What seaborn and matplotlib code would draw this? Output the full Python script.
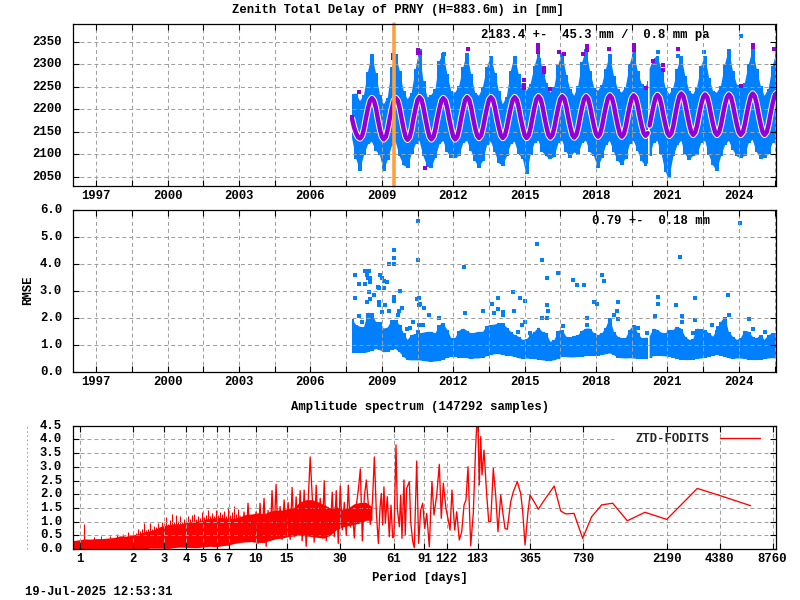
import numpy as np
import pandas as pd
import matplotlib
matplotlib.use('Agg')
import matplotlib.pyplot as plt
from matplotlib.ticker import NullLocator
from matplotlib.transforms import ScaledTranslation
import seaborn as sns

BLUE = '#0080ff'
PURPLE = '#9400d3'
ORANGE = '#ffa040'
RED = '#ff0000'
GRID = '#a0a0a0'

# sample dates of the two time series panels (nan rows mark the data gap in 2020)
years = [2007.75, 2007.92,
         2008.08, 2008.25, 2008.42, 2008.58, 2008.75, 2008.92,
         2009.08, 2009.25, 2009.42, 2009.58, 2009.75, 2009.92,
         2010.08, 2010.25, 2010.42, 2010.58, 2010.75, 2010.92,
         2011.08, 2011.25, 2011.42, 2011.58, 2011.75, 2011.92,
         2012.08, 2012.25, 2012.42, 2012.58, 2012.75, 2012.92,
         2013.08, 2013.25, 2013.42, 2013.58, 2013.75, 2013.92,
         2014.08, 2014.25, 2014.42, 2014.58, 2014.75, 2014.92,
         2015.08, 2015.25, 2015.42, 2015.58, 2015.75, 2015.92,
         2016.08, 2016.25, 2016.42, 2016.58, 2016.75, 2016.92,
         2017.08, 2017.25, 2017.42, 2017.58, 2017.75, 2017.92,
         2018.08, 2018.25, 2018.42, 2018.58, 2018.75, 2018.92,
         2019.08, 2019.25, 2019.42, 2019.58, 2019.75, 2019.92,
         2020.08, 2020.18, 2020.21, 2020.25, 2020.42, 2020.58, 2020.75, 2020.92,
         2021.08, 2021.25, 2021.42, 2021.58, 2021.75, 2021.92,
         2022.08, 2022.25, 2022.42, 2022.58, 2022.75, 2022.92,
         2023.08, 2023.25, 2023.42, 2023.58, 2023.75, 2023.92,
         2024.08, 2024.25, 2024.42, 2024.58, 2024.75, 2024.92,
         2025.08, 2025.25, 2025.42, 2025.58]

ztd_hi = [2233, 2235,
          2218, 2232, 2284, 2322, 2281, 2232,
          2211, 2226, 2293, 2322, 2285, 2240,
          2222, 2236, 2289, 2333, 2262, 2226,
          2232, 2244, 2307, 2326, 2278, 2240,
          2237, 2252, 2293, 2326, 2278, 2237,
          2230, 2250, 2293, 2319, 2281, 2240,
          2211, 2228, 2285, 2319, 2278, 2246,
          2241, 2256, 2296, 2326, 2290, 2258,
          2237, 2250, 2300, 2326, 2277, 2244,
          2230, 2252, 2305, 2333, 2285, 2248,
          2241, 2254, 2290, 2322, 2274, 2244,
          2237, 2250, 2300, 2330, 2285, 2256,
          2248, 2262, np.nan, 2290, 2312, 2319, 2288, 2248,
          2233, 2248, 2290, 2319, 2274, 2240,
          2233, 2250, 2296, 2319, 2270, 2240,
          2237, 2252, 2300, 2333, 2285, 2255,
          2248, 2258, 2300, 2333, 2290, 2252,
          2230, 2245, 2296, 2326]

ztd_lo = [2135, 2090,
          2063, 2098, 2122, 2128, 2108, 2098,
          2063, 2088, 2118, 2128, 2095, 2075,
          2070, 2100, 2122, 2130, 2095, 2072,
          2070, 2092, 2122, 2130, 2105, 2092,
          2092, 2096, 2125, 2130, 2108, 2085,
          2070, 2085, 2120, 2128, 2105, 2080,
          2074, 2095, 2122, 2128, 2100, 2090,
          2055, 2098, 2125, 2130, 2105, 2095,
          2089, 2094, 2125, 2130, 2105, 2092,
          2104, 2100, 2125, 2130, 2105, 2095,
          2070, 2092, 2120, 2130, 2105, 2085,
          2077, 2090, 2122, 2130, 2108, 2085,
          2074, 2080, np.nan, 2095, 2125, 2130, 2100, 2060,
          2048, 2095, 2120, 2130, 2100, 2088,
          2096, 2098, 2125, 2130, 2098, 2075,
          2063, 2095, 2120, 2130, 2110, 2095,
          2092, 2096, 2125, 2132, 2105, 2090,
          2092, 2100, 2125, 2135]

rmse_hi = [1.95, 1.73,
           1.67, 1.65, 2.19, 2.16, 1.85, 1.83,
           1.60, 1.64, 1.92, 1.90, 1.73, 1.42,
           1.18, 1.36, 1.40, 1.42, 1.45, 1.48,
           1.48, 1.42, 1.73, 1.79, 1.55, 1.24,
           1.24, 1.52, 1.60, 1.52, 1.42, 1.45,
           1.48, 1.48, 1.70, 1.73, 1.75, 1.79,
           1.79, 1.64, 1.48, 1.36, 1.30, 1.18,
           1.20, 1.36, 1.48, 1.64, 1.48, 1.42,
           1.11, 1.17, 1.52, 1.55, 1.30, 1.27,
           1.32, 1.36, 1.52, 1.60, 1.60, 1.42,
           1.36, 1.42, 1.64, 2.00, 1.48, 1.30,
           1.24, 1.24, 1.55, 1.73, 1.45, 1.24,
           1.26, 1.26, np.nan, 1.30, 1.60, 1.55, 1.45, 1.42,
           1.55, 1.55, 1.67, 1.60, 1.30, 1.18,
           1.20, 1.60, 1.57, 1.55, 1.42, 1.30,
           1.55, 1.85, 2.04, 1.48, 1.30, 1.18,
           1.24, 1.52, 1.48, 1.30, 1.24, 1.36,
           1.18, 1.36, 1.42, 1.42]

rmse_lo = [0.70, 0.70,
           0.70, 0.70, 0.72, 0.78, 0.84, 0.80,
           0.72, 0.74, 0.82, 0.84, 0.72, 0.55,
           0.43, 0.42, 0.42, 0.42, 0.40, 0.38,
           0.37, 0.38, 0.40, 0.45, 0.52, 0.55,
           0.56, 0.52, 0.52, 0.50, 0.48, 0.49,
           0.49, 0.52, 0.58, 0.62, 0.65, 0.65,
           0.62, 0.60, 0.58, 0.55, 0.50, 0.48,
           0.49, 0.48, 0.47, 0.45, 0.42, 0.41,
           0.41, 0.42, 0.48, 0.55, 0.54, 0.53,
           0.53, 0.55, 0.56, 0.58, 0.58, 0.60,
           0.60, 0.62, 0.65, 0.68, 0.62, 0.52,
           0.50, 0.49, 0.50, 0.49, 0.48, 0.47,
           0.47, 0.47, np.nan, 0.50, 0.58, 0.59, 0.58, 0.57,
           0.56, 0.52, 0.48, 0.45, 0.43, 0.43,
           0.45, 0.48, 0.49, 0.52, 0.55, 0.60,
           0.62, 0.60, 0.55, 0.50, 0.48, 0.49,
           0.49, 0.47, 0.45, 0.43, 0.43, 0.45,
           0.47, 0.49, 0.50, 0.50]

# seasonal curve, read month by month
seasonal_years = [2007.75, 2007.83, 2007.92, 2008.00,
    2008.08, 2008.17, 2008.25, 2008.33, 2008.42, 2008.50, 2008.58, 2008.67, 2008.75, 2008.83, 2008.92, 2009.00,
    2009.08, 2009.17, 2009.25, 2009.33, 2009.42, 2009.50, 2009.58, 2009.67, 2009.75, 2009.83, 2009.92, 2010.00,
    2010.08, 2010.17, 2010.25, 2010.33, 2010.42, 2010.50, 2010.58, 2010.67, 2010.75, 2010.83, 2010.92, 2011.00,
    2011.08, 2011.17, 2011.25, 2011.33, 2011.42, 2011.50, 2011.58, 2011.67, 2011.75, 2011.83, 2011.92, 2012.00,
    2012.08, 2012.17, 2012.25, 2012.33, 2012.42, 2012.50, 2012.58, 2012.67, 2012.75, 2012.83, 2012.92, 2013.00,
    2013.08, 2013.17, 2013.25, 2013.33, 2013.42, 2013.50, 2013.58, 2013.67, 2013.75, 2013.83, 2013.92, 2014.00,
    2014.08, 2014.17, 2014.25, 2014.33, 2014.42, 2014.50, 2014.58, 2014.67, 2014.75, 2014.83, 2014.92, 2015.00,
    2015.08, 2015.17, 2015.25, 2015.33, 2015.42, 2015.50, 2015.58, 2015.67, 2015.75, 2015.83, 2015.92, 2016.00,
    2016.08, 2016.17, 2016.25, 2016.33, 2016.42, 2016.50, 2016.58, 2016.67, 2016.75, 2016.83, 2016.92, 2017.00,
    2017.08, 2017.17, 2017.25, 2017.33, 2017.42, 2017.50, 2017.58, 2017.67, 2017.75, 2017.83, 2017.92, 2018.00,
    2018.08, 2018.17, 2018.25, 2018.33, 2018.42, 2018.50, 2018.58, 2018.67, 2018.75, 2018.83, 2018.92, 2019.00,
    2019.08, 2019.17, 2019.25, 2019.33, 2019.42, 2019.50, 2019.58, 2019.67, 2019.75, 2019.83, 2019.92, 2020.00,
    2020.08, 2020.17, 2020.25, 2020.33, 2020.42, 2020.50, 2020.58, 2020.67, 2020.75, 2020.83, 2020.92, 2021.00,
    2021.08, 2021.17, 2021.25, 2021.33, 2021.42, 2021.50, 2021.58, 2021.67, 2021.75, 2021.83, 2021.92, 2022.00,
    2022.08, 2022.17, 2022.25, 2022.33, 2022.42, 2022.50, 2022.58, 2022.67, 2022.75, 2022.83, 2022.92, 2023.00,
    2023.08, 2023.17, 2023.25, 2023.33, 2023.42, 2023.50, 2023.58, 2023.67, 2023.75, 2023.83, 2023.92, 2024.00,
    2024.08, 2024.17, 2024.25, 2024.33, 2024.42, 2024.50, 2024.58, 2024.67, 2024.75, 2024.83, 2024.92, 2025.00,
    2025.08, 2025.17, 2025.25, 2025.33, 2025.42, 2025.50, 2025.58]
seasonal_ztd = [2178, 2160, 2146, 2138,
    2135, 2141, 2157, 2180, 2203, 2219, 2225, 2219, 2203, 2179, 2155, 2139,
    2133, 2139, 2156, 2179, 2202, 2219, 2225, 2219, 2202, 2179, 2155, 2138,
    2132, 2138, 2156, 2180, 2203, 2221, 2227, 2221, 2203, 2180, 2156, 2139,
    2133, 2139, 2156, 2179, 2202, 2219, 2225, 2219, 2202, 2179, 2156, 2139,
    2133, 2139, 2157, 2180, 2203, 2221, 2227, 2221, 2204, 2181, 2158, 2142,
    2136, 2142, 2159, 2181, 2204, 2221, 2227, 2221, 2204, 2181, 2159, 2142,
    2136, 2142, 2159, 2181, 2204, 2221, 2227, 2221, 2204, 2181, 2159, 2142,
    2136, 2142, 2159, 2182, 2206, 2223, 2229, 2223, 2206, 2183, 2160, 2143,
    2137, 2143, 2160, 2183, 2206, 2223, 2229, 2223, 2206, 2183, 2160, 2143,
    2137, 2143, 2160, 2183, 2206, 2223, 2229, 2223, 2206, 2184, 2161, 2145,
    2139, 2145, 2162, 2185, 2208, 2225, 2231, 2225, 2208, 2185, 2162, 2145,
    2139, 2145, 2162, 2185, 2208, 2225, 2231, 2225, 2208, 2185, 2163, 2147,
    2141, 2147, 2164, 2186, 2209, 2226, 2232, 2226, 2209, 2186, 2164, 2147,
    2141, 2147, 2164, 2188, 2212, 2229, 2235, 2229, 2212, 2189, 2166, 2149,
    2143, 2149, 2165, 2188, 2211, 2227, 2233, 2227, 2210, 2188, 2165, 2149,
    2143, 2149, 2165, 2188, 2211, 2227, 2233, 2227, 2210, 2188, 2165, 2149,
    2143, 2149, 2166, 2189, 2212, 2229, 2235, 2229, 2212, 2189, 2166, 2149,
    2143, 2149, 2166, 2189, 2213, 2230, 2236]

# single points lying clear of the main cloud
ztd_blue_x = [2024.07, 2011.63, 2020.60, 2021.45, 2022.54, 2010.60, 2015.60]
ztd_blue_y = [2362, 2324, 2328, 2318, 2327, 2328, 2310]

ztd_violet_x = [2008.02, 2009.45, 2009.45, 2010.50, 2010.50, 2010.62, 2010.83, 2012.63,
                2014.99, 2014.99, 2014.99, 2015.55, 2015.55, 2015.55, 2015.55, 2015.82,
                2015.82, 2016.08, 2016.46, 2016.67, 2017.45, 2017.60, 2017.60, 2018.56,
                2019.61, 2019.61, 2019.61, 2020.39, 2020.83, 2020.83, 2020.08, 2021.46,
                2024.07, 2024.60, 2024.60, 2025.46, 2025.52, 2007.75]
ztd_violet_y = [2239, 2320, 2313, 2331, 2325, 2325, 2069, 2333,
                2264, 2253, 2247, 2342, 2338, 2331, 2327, 2291,
                2282, 2244, 2327, 2324, 2322, 2341, 2331, 2333,
                2344, 2338, 2331, 2308, 2298, 2287, 2247, 2333,
                2252, 2344, 2338, 2335, 2231, 2182]

rmse_out_x = [2007.85, 2007.89, 2008.02, 2008.02, 2008.15, 2008.27, 2008.31, 2008.44, 2008.36,
              2008.40, 2008.48, 2008.48, 2008.44, 2008.48, 2008.36, 2008.69, 2008.82, 2008.90,
              2008.94, 2008.99, 2009.07, 2009.20, 2009.11, 2008.86, 2008.86, 2008.99, 2009.15,
              2009.32, 2009.32, 2009.53, 2009.53, 2009.53, 2009.78, 2009.49, 2009.49, 2009.66,
              2009.83, 2009.74, 2010.50, 2010.50, 2010.46, 2010.54, 2010.54, 2010.62, 2010.79,
              2011.00, 2010.29, 2010.04, 2010.20, 2010.58, 2010.71, 2010.50, 2011.38, 2012.43,
              2012.51, 2013.27, 2013.61, 2013.90, 2013.73, 2013.86, 2014.11, 2014.11, 2014.49,
              2014.57, 2014.82, 2015.03, 2015.03, 2015.50, 2015.71, 2015.92, 2016.38, 2017.05,
              2017.18, 2017.51, 2018.23, 2018.35, 2015.92, 2015.96, 2015.92, 2015.71, 2017.93,
              2018.02, 2017.64, 2018.94, 2018.90, 2018.77, 2018.94, 2020.62, 2020.62, 2020.49,
              2021.54, 2021.38, 2021.63, 2021.63, 2022.17, 2022.17, 2023.56, 2023.60, 2024.44,
              2024.61, 2024.06, 2025.52, 2019.78, 2020.16, 2022.09, 2022.86, 2023.14, 2025.10,
              2015.24, 2014.70, 2014.88, 2016.63, 2017.64]
rmse_out_y = [3.57, 2.72, 3.27, 2.05, 1.83, 3.27, 3.75, 3.75, 3.58,
              3.46, 3.49, 3.31, 2.94, 2.68, 2.57, 2.86, 3.16, 3.12,
              3.60, 3.49, 3.38, 3.31, 3.12, 2.57, 2.49, 2.20, 2.46,
              2.27, 3.98, 3.98, 4.23, 4.53, 2.98, 2.79, 2.64, 2.12,
              2.38, 2.27, 5.60, 4.16, 2.68, 2.72, 2.49, 2.53, 2.35,
              2.09, 1.83, 1.60, 1.64, 1.72, 1.72, 1.49, 1.98, 3.90,
              2.16, 2.27, 2.53, 2.72, 2.16, 2.31, 2.20, 2.12, 2.94,
              2.27, 2.72, 2.64, 1.83, 4.72, 4.16, 3.49, 3.68, 3.42,
              3.20, 3.23, 3.57, 3.35, 2.49, 2.27, 1.98, 1.98, 2.60,
              2.53, 2.01, 2.57, 2.27, 2.09, 1.94, 2.79, 2.53, 2.05,
              4.27, 2.49, 2.05, 1.86, 2.72, 1.90, 2.83, 2.12, 1.94,
              1.60, 5.53, 0.77, 1.64, 1.42, 1.42, 1.72, 1.64, 1.46,
              1.42, 1.49, 1.75, 1.68, 1.75]

# dense part of the spectrum: outline of the solid red mass
env_period = [0.897, 0.97, 1.054, 1.136, 1.229, 1.329, 1.438, 1.556, 1.683, 1.821, 1.97, 2.13,
              2.31, 2.49, 2.70, 2.92, 3.16, 3.42, 3.70, 4.00, 4.33, 4.68, 5.06, 5.48, 5.93,
              6.41, 6.94, 7.51, 8.12, 8.78, 9.50, 10.28, 11.12, 12.03, 13.02, 14.08, 15.23,
              16.48, 17.83, 19.29, 20.87, 22.58, 24.43, 26.43, 28.6, 30.9, 33.5, 36.2, 39.2,
              42.4, 45.8]
env_hi = [0.30, 0.33, 0.37, 0.36, 0.38, 0.38, 0.40, 0.42, 0.48, 0.47, 0.50, 0.56,
          0.62, 0.66, 0.74, 0.84, 0.88, 0.92, 0.92, 0.97, 1.00, 1.02, 1.08, 1.12, 1.15,
          1.15, 1.12, 1.12, 1.18, 1.26, 1.28, 1.32, 1.28, 1.38, 1.42, 1.42, 1.48,
          1.52, 1.72, 1.80, 1.80, 1.72, 1.62, 1.50, 1.55, 1.45, 1.50, 1.65, 1.70,
          1.70, 1.55]
env_lo = [0.0, 0.0, 0.0, 0.0, 0.0, 0.0, 0.0, 0.0, 0.0, 0.0, 0.0, 0.0,
          0.0, 0.03, 0.03, 0.03, 0.02, 0.05, 0.07, 0.06, 0.05, 0.05, 0.08, 0.10, 0.08,
          0.12, 0.14, 0.20, 0.24, 0.26, 0.27, 0.24, 0.24, 0.32, 0.37, 0.40, 0.45,
          0.48, 0.50, 0.48, 0.45, 0.42, 0.40, 0.50, 0.70, 0.80, 0.85, 0.90, 0.95,
          1.05, 1.05]

# thin lines rising out of the mass at short periods
tip_period = [1.054, 1.20, 1.31, 1.47, 1.62, 1.74, 1.88, 2.00, 2.07, 2.13, 2.18, 2.24, 2.30, 2.36,
              2.43, 2.49, 2.56, 2.63, 2.70, 2.77, 2.84,
              2.92, 3.00, 3.08, 3.16, 3.24, 3.33, 3.42, 3.51, 3.60, 3.70, 3.80, 3.90, 4.00, 4.11,
              4.22, 4.33, 4.45, 4.57, 4.69, 4.81, 4.94, 5.07, 5.21, 5.35, 5.49, 5.64, 5.79, 5.94,
              6.10, 6.26, 6.43, 6.60, 6.78, 6.96, 7.14, 7.33, 7.53, 7.73, 7.93]
tip_amp = [0.90, 0.44, 0.46, 0.46, 0.56, 0.55, 0.62, 0.64, 0.60, 0.72, 0.65, 0.72, 0.95, 0.70,
           0.74, 0.94, 0.72, 0.85, 0.82, 0.95, 0.80,
           0.98, 0.95, 1.15, 0.92, 1.05, 1.27, 0.98, 1.24, 1.02, 1.20, 1.00, 1.08, 1.12, 1.20,
           1.10, 1.24, 1.27, 1.10, 1.20, 1.12, 1.35, 1.18, 1.25, 1.42, 1.20, 1.30, 1.22, 1.42,
           1.25, 1.35, 1.28, 1.40, 1.20, 1.55, 1.25, 1.35, 1.57, 1.28, 1.46]

# single line, short periods run into the zigzag at the long end
line_period = [8.12, 8.34, 8.56, 8.79, 9.02, 9.26, 9.51, 9.76, 10.02, 10.29, 10.56, 10.84, 11.13, 11.43,
               11.73, 12.04, 12.36, 12.69, 13.03, 13.38, 13.74, 14.1, 14.48, 14.86, 15.26, 15.67, 16.08,
               16.51, 16.95, 17.4, 17.87, 18.34, 18.83, 19.33, 19.85, 20.38, 20.92, 21.48, 22.05, 22.64,
               23.24, 23.86, 24.5, 25.15, 25.82, 26.51, 27.21, 27.94, 28.68, 29.45, 30.23, 31.04, 31.87,
               32.72, 33.59, 34.48, 35.4, 36.35, 37.32, 38.31, 39.33, 40.38, 41.46, 42.56, 43.7, 44.86,
               46.06, 47.29, 48.55, 49.84,
               50.9, 51.8, 52.7, 53.6, 54.6, 56.0, 57.5, 58.8, 60.1, 61.1, 62.8, 63.9, 65.6, 66.8,
               67.9, 69.7, 70.9, 72.2, 74.8, 76.1, 78.2, 79.8, 82.4, 84.5, 86.8, 89.1, 91.5, 93.9,
               97.2, 100.6, 103.3, 107.1, 110.8, 113.7, 116.8, 120.9, 124.6, 127.5, 130.8, 135.6,
               139.2, 144, 148.6, 153.2, 157.2, 161.4, 167.2, 173, 178.6, 180.9, 184, 187.2, 190.7,
               193.9, 199.1, 206.3, 211.8, 217.4, 224.9, 232, 239.2, 247.9, 254.4, 262.2, 270.2,
               282.6, 292.3, 308, 322, 330.7, 340.9, 354.4, 363.9, 388.6, 406, 433, 500, 544, 581,
               648, 726, 817, 932, 1076, 1303, 1644, 2185, 3264, 4395, 6572]
line_amp = [1.20, 0.35, 1.35, 0.30, 1.67, 0.40, 1.15, 0.25, 1.35, 0.20, 1.67, 0.35, 1.85, 0.10,
            1.40, 0.30, 2.13, 0.55, 2.36, 0.40, 1.55, 0.35, 1.79, 0.50, 1.70, 0.35, 2.25,
            0.45, 1.90, 0.55, 2.13, 0.30, 2.15, 0.10, 1.70, 3.36, 1.95, 0.25, 2.33, 0.50,
            1.85, 0.40, 2.49, 0.30, 1.50, 0.70, 2.07, 0.45, 2.13, 0.20, 2.30, 0.70, 1.70,
            0.50, 2.33, 0.80, 1.50, 0.40, 1.60, 2.15, 2.92, 0.30, 1.90, 2.52, 1.60, 0.90,
            1.70, 3.36, 1.30, 0.20,
            1.48, 2.03, 0.88, 2.27, 0.94, 1.91, 0.45, 1.60, 0.41, 0.45, 3.80, 1.48, 0.81, 1.97,
            0.39, 2.52, 0.51, 2.21, 2.46, 1.00, 0.27, 0.05, 3.21, 0.21, 1.42, 1.67, 0.75, 1.30,
            0.08, 2.46, 1.24, 1.97, 3.09, 1.12, 2.40, 1.48, 1.06, 0.69, 2.15, 0.69,
            1.36, 0.33, 0.63, 1.60, 1.79, 3.00, 0.12, 1.30, 3.80, 4.50, 4.50, 2.34, 4.10,
            2.70, 3.61, 1.97, 1.00, 1.00, 2.94, 1.97, 0.63, 1.97, 1.36, 0.75, 0.72,
            1.73, 2.09, 2.46, 2.03, 1.36, 0.15, 1.36, 1.97, 1.67, 1.45, 1.73, 2.30, 1.39, 1.28,
            1.30, 0.39, 1.18, 1.61, 1.67, 1.03, 1.34, 1.08, 2.21, 1.95, 1.58]

year_ticks = [1997, 1998.5, 2000, 2001.5, 2003, 2004.5, 2006, 2007.5, 2009, 2010.5, 2012, 2013.5,
              2015, 2016.5, 2018, 2019.5, 2021, 2022.5, 2024, 2025.5]
year_labels = ['1997', '', '2000', '', '2003', '', '2006', '', '2009', '', '2012', '',
               '2015', '', '2018', '', '2021', '', '2024', '']
ztd_ticks = [2050, 2100, 2150, 2200, 2250, 2300, 2350]
rmse_ticks = [0.0, 1.0, 2.0, 3.0, 4.0, 5.0, 6.0]
amp_ticks = [0.0, 0.5, 1.0, 1.5, 2.0, 2.5, 3.0, 3.5, 4.0, 4.5]
period_ticks = [1, 2, 3, 4, 5, 6, 7, 10, 15, 30, 61, 91, 122, 183, 365, 730, 2190, 4380, 8760]

sns.set_style('ticks')
FONT = ['Liberation Mono', 'DejaVu Sans Mono']
plt.rcParams['font.family'] = FONT
plt.rcParams['font.weight'] = 'bold'
plt.rcParams['font.size'] = 8.8

W, H = 800, 600
fig = plt.figure(figsize=(8, 6), dpi=100)


def panel(top, bottom, left=72.5, right=775.5):
    ax = fig.add_axes([left / W, 1 - bottom / H, (right - left) / W, (bottom - top) / H])
    for s in ax.spines.values():
        s.set_linewidth(0.9)
        s.set_color('black')
        s.set_zorder(6)
    ax.tick_params(which='both', direction='in', length=4.3, width=0.8, top=True, right=True,
                   labelsize=8.8, color='black', labelcolor='black', pad=3)
    ax.tick_params(axis='y', pad=7.5)
    ax.set_axisbelow(False)
    ax.grid(True, color=GRID, linewidth=0.75, linestyle=(0, (3.8, 2.9)))
    return ax


def finish_ticks(ax):
    # y labels sit a little above their grid line in the original
    up = ScaledTranslation(0, 1.5 / 100, fig.dpi_scale_trans)
    for lab in ax.get_yticklabels():
        lab.set_transform(lab.get_transform() + up)


def gridline_short(ax, value, x_end):
    # gnuplot's key box wipes the right part of the top grid line
    ticks = list(ax.get_yticks())
    ax.get_ygridlines()[ticks.index(value)].set_visible(False)
    ax.plot([ax.get_xlim()[0], x_end], [value, value], color=GRID, linewidth=0.75,
            linestyle=(0, (3.8, 2.9)), zorder=2.5)


ztd = pd.DataFrame({'year': years, 'hi': ztd_hi, 'lo': ztd_lo, 'rmse_hi': rmse_hi, 'rmse_lo': rmse_lo})
seasonal = pd.DataFrame({'year': seasonal_years, 'ztd': seasonal_ztd})
before = seasonal[seasonal.year < 2020.2]
after = seasonal[seasonal.year > 2020.2]

# --- ZTD panel ---
ax1 = panel(24.3, 185.7)
# both fills together give the notched edge of the point cloud
ax1.fill_between(ztd.year, ztd.lo, ztd.hi, color=BLUE, linewidth=0, zorder=1)
ax1.fill_between(ztd.year, ztd.lo, ztd.hi, step='mid', color=BLUE, linewidth=0, zorder=1)
sns.scatterplot(x=ztd_blue_x, y=ztd_blue_y, marker='s', s=6, color=BLUE, linewidth=0, ax=ax1, zorder=1)
for part in (before, after):
    sns.lineplot(data=part, x='year', y='ztd', color='white', linewidth=4.6, estimator=None,
                 sort=False, ax=ax1, zorder=3)
for part in (before, after):
    sns.lineplot(data=part, x='year', y='ztd', color=PURPLE, linewidth=3.2, estimator=None,
                 sort=False, ax=ax1, zorder=3.1)
sns.scatterplot(x=ztd_violet_x, y=ztd_violet_y, marker='s', s=7, color=PURPLE, linewidth=0, ax=ax1, zorder=3.2)
ax1.axvline(2009.53, color=ORANGE, linewidth=2.6, zorder=4, clip_on=False)
ax1.set_xlim(1996.0, 2025.54)
ax1.set_ylim(2030, 2389)
ax1.set_xticks(year_ticks, year_labels)
ax1.set_yticks(ztd_ticks)
ax1.set_xlabel('')
ax1.set_ylabel('')
gridline_short(ax1, 2350, 2014.25)
finish_ticks(ax1)

# --- RMSE panel ---
ax2 = panel(210, 371.7)
ax2.fill_between(ztd.year, ztd.rmse_lo, ztd.rmse_hi, color=BLUE, linewidth=0, zorder=1)
ax2.fill_between(ztd.year, ztd.rmse_lo, ztd.rmse_hi, step='mid', color=BLUE, linewidth=0, zorder=1)
sns.scatterplot(x=rmse_out_x, y=rmse_out_y, marker='s', s=6, color=BLUE, linewidth=0, ax=ax2, zorder=1)
ax2.set_xlim(1996.0, 2025.54)
ax2.set_ylim(0, 6)
ax2.set_xticks(year_ticks, year_labels)
ax2.set_yticks(rmse_ticks, [f'{v:.1f}' for v in rmse_ticks])
ax2.set_xlabel('')
ax2.set_ylabel('')
finish_ticks(ax2)

# --- amplitude spectrum ---
ax3 = panel(425.7, 549)
ax3.set_xscale('log')
ax3.fill_between(env_period, env_lo, env_hi, color=RED, linewidth=0, zorder=1)
ax3.vlines(tip_period, 0.3, tip_amp, color=RED, linewidth=0.8, zorder=1)
sns.lineplot(x=line_period, y=line_amp, color=RED, linewidth=0.95, estimator=None, sort=False,
             ax=ax3, zorder=3, label='ZTD-FODITS')
ax3.set_xlim(0.903, 9099)
ax3.set_ylim(0, 4.5)
ax3.set_xticks(period_ticks, [str(p) for p in period_ticks])
ax3.xaxis.set_minor_locator(NullLocator())
ax3.set_yticks(amp_ticks, [f'{v:.1f}' for v in amp_ticks])
ax3.set_xlabel('')
ax3.set_ylabel('')
# the 0.5 day grid line falls outside the frame
ax3.axvline(0.5, color=GRID, linewidth=0.75, linestyle=(0, (1.5, 2.5)), clip_on=False, zorder=0.5)
gridline_short(ax3, 4.0, 1100)
finish_ticks(ax3)
ax3.legend(loc='upper right', bbox_to_anchor=(0.993, 1.03), frameon=False, markerfirst=False,
           handlelength=3.2, handletextpad=0.9, borderpad=0.4, prop={'family': FONT, 'weight': 'bold', 'size': 8.8})


def label(px, py, text, ha='center', **kw):
    fig.text(px / W, 1 - py / H, text, ha=ha, va='center', fontsize=8.8, fontweight='bold',
             color='black', **kw)


label(398, 10, 'Zenith Total Delay of PRNY (H=883.6m) in [mm]')
label(481, 35, '2183.4 +-  45.3 mm /  0.8 mm pa', ha='left')
label(592, 221, '0.79 +-  0.18 mm', ha='left')
label(28, 290, 'RMSE', rotation=90)
label(420, 407, 'Amplitude spectrum (147292 samples)')
label(420, 578, 'Period [days]')
label(25, 592, '19-Jul-2025 12:53:31', ha='left')

fig.savefig('out.png', dpi=100)
